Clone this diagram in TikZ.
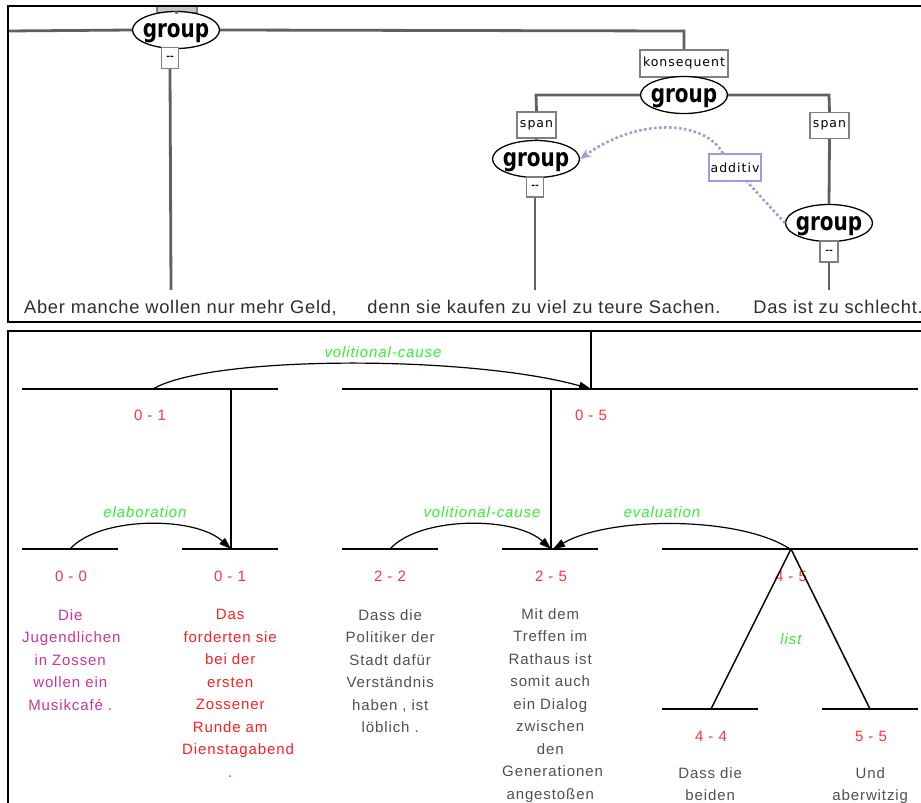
\documentclass[tikz,border=0pt]{standalone}
\usepackage{fontspec}
\setmainfont{Liberation Sans}
\newfontfamily\djv{DejaVu Sans}
\newfontfamily\grpf[FakeStretch=0.8]{DejaVu Sans}
\newfontfamily\lblf[LetterSpace=8]{DejaVu Sans}
\newfontfamily\topf[LetterSpace=4]{Liberation Sans}
\newfontfamily\botf[LetterSpace=6]{Liberation Sans}
\usetikzlibrary{arrows.meta,shapes.geometric}
\definecolor{tgray}{HTML}{606060}
\definecolor{lblgray}{HTML}{808080}
\definecolor{addc}{HTML}{9C9CE4}
\definecolor{rngred}{HTML}{FF3333}
\definecolor{relgreen}{HTML}{33EE33}
\definecolor{txtgray}{HTML}{505050}
\definecolor{txtmag}{HTML}{CC3399}
\definecolor{txtred}{HTML}{FF2020}
\definecolor{toptxt}{HTML}{2E2E2E}
\begin{document}
\begin{tikzpicture}[x=1pt,y=-1pt,
 frame/.style={draw=black,line width=1.6pt},
 tline/.style={draw=tgray,line width=2.8pt},
 grp/.style={ellipse,draw=black,line width=1.3pt,fill=white,inner xsep=-3pt,inner ysep=5pt,text depth=0pt,minimum width=87pt,minimum height=37pt,font=\grpf\bfseries\fontsize{25}{25}\selectfont},
 lblbox/.style={rectangle,draw=lblgray,line width=1.3pt,fill=white,inner sep=0pt,minimum height=26pt,font=\lblf\fontsize{12.5}{12.5}\selectfont},
 dashbox/.style={rectangle,draw=lblgray,line width=1.3pt,fill=white,inner sep=0pt,minimum width=17pt,minimum height=21pt,font=\djv\bfseries\fontsize{9}{9}\selectfont},
 toptext/.style={inner sep=0pt,anchor=base,text=toptxt,font=\topf\fontsize{18.3}{18.3}\selectfont},
 addline/.style={draw=addc,line width=2.6pt,dash pattern=on 2.6pt off 2.4pt},
 bline/.style={draw=black,line width=1.5pt},
 relarc/.style={draw=black,line width=1.2pt,-{Triangle[length=12pt,width=8pt]}},
 rng/.style={text=rngred,inner sep=0pt,font=\botf\fontsize{15}{15}\selectfont},
 rel/.style={text=relgreen,inner sep=0pt,font=\botf\itshape\fontsize{15}{15}\selectfont},
 blk/.style={anchor=north west,inner sep=0pt,text width=96pt,align=center,font=\botf\fontsize{15}{22.5}\selectfont},
]
\useasboundingbox (0,0) rectangle (921,803);
\clip (0,0) rectangle (921,803);

% ---------------- top panel ----------------
\node[draw=lblgray,fill=black!22,line width=1.2pt,minimum width=40pt,minimum height=7pt,inner sep=0pt] (pbox) at (177,9.5) {};
\coordinate (lft) at (8,31);
\coordinate (c1) at (684,31);
\node[lblbox,minimum width=88pt,minimum height=27pt] (kons) at (684,63.5) {konsequent};
\node[grp] (g1) at (176,30) {group};
\draw[tline] (lft) -- (g1.west);
\draw[tline] (pbox.south) -- (g1.north);
\draw[tline] (g1.east) -- (c1) -- (kons.north);
\node[dashbox] (d1) at (170,58) {{-}{-}};
\node[grp] (g2) at (684,95) {group};
\coordinate (c2) at (536,95);
\coordinate (c3) at (829,95);
\node[lblbox,minimum width=39pt] (span1) at (536.5,125) {span};
\node[lblbox,minimum width=39pt] (span2) at (829.5,125.5) {span};
\draw[tline] (g2.west) -- (c2) -- (span1.north);
\draw[tline] (g2.east) -- (c3) -- (span2.north);
\node[grp] (g3) at (536,159) {group};
\draw[tline] (span1.south) -- (g3.north);
\node[dashbox,minimum height=20pt] (d3) at (535,187) {{-}{-}};
\node[grp] (g4) at (829,223) {group};
\draw[tline] (span2.south) -- (g4.north);
\node[dashbox,minimum width=18pt] (d4) at (829,251.5) {{-}{-}};
\coordinate (e1) at (171,290);
\coordinate (e3) at (535,290);
\coordinate (e4) at (829,290);
\draw[tline] (d1.south) -- (e1);
\draw[tline] (d3.south) -- (e3);
\draw[tline] (d4.south) -- (e4);
\node[lblbox,draw=addc,minimum width=52pt,minimum height=27pt] (add) at (735,167.5) {additiv};
\draw[addline] (g4.west) -- ([xshift=12pt]add.south);
\draw[addline,-{Stealth[length=11pt,width=9pt]}] ([xshift=-12pt]add.north) .. controls (705,121) and (640,116) .. (g3.east);

\node[toptext] (t1) at (180.5,313) {Aber manche wollen nur mehr Geld,};
\node[toptext] (t2) at (544,313) {denn sie kaufen zu viel zu teure Sachen.};
\node[toptext] (t3) at (838,313) {Das ist zu schlecht.};

\draw[frame] (8,6) rectangle (935,322);

% ---------------- bottom panel ----------------
% row 1
\coordinate (a1l) at (22,389);  \coordinate (a1r) at (278,389);
\coordinate (b1l) at (342,389); \coordinate (b1r) at (918,389);
\draw[bline] (a1l) -- (a1r);
\draw[bline] (b1l) -- (b1r);
% row 2
\coordinate (r2a) at (22,549);  \coordinate (r2b) at (118,549);
\coordinate (r2c) at (182,549); \coordinate (r2d) at (278,549);
\coordinate (r2e) at (342,549); \coordinate (r2f) at (438,549);
\coordinate (r2g) at (502,549); \coordinate (r2h) at (598,549);
\coordinate (r2i) at (662,549); \coordinate (r2j) at (918,549);
\draw[bline] (r2a) -- (r2b);
\draw[bline] (r2c) -- (r2d);
\draw[bline] (r2e) -- (r2f);
\draw[bline] (r2g) -- (r2h);
\draw[bline] (r2i) -- (r2j);
% row 3
\coordinate (r3a) at (662,709); \coordinate (r3b) at (758,709);
\coordinate (r3c) at (822,709); \coordinate (r3d) at (918,709);
\draw[bline] (r3a) -- (r3b);
\draw[bline] (r3c) -- (r3d);

% verticals
\coordinate (vtop) at (591,331);
\coordinate (vc1e) at (591,389);
\coordinate (v01t) at (231,389); \coordinate (v01b) at (231,549);
\coordinate (v25t) at (551,389); \coordinate (v25b) at (551,549);
\draw[bline] (vtop) -- (vc1e);
\draw[bline] (v01t) -- (v01b);
\draw[bline] (v25t) -- (v25b);

% relation arcs
\coordinate (vc1s) at (153,389);
\draw[relarc] (vc1s) .. controls (210,355) and (470,355) .. (vc1e);
\coordinate (el0) at (70,549);
\draw[relarc] (el0) .. controls (100,516) and (195,516) .. (v01b);
\coordinate (vc2s) at (390,549);
\draw[relarc] (vc2s) .. controls (420,516) and (515,516) .. (v25b);
\coordinate (ev0) at (790,549);
\coordinate (ev1) at (553,549);
\draw[relarc] (ev0) .. controls (740,516) and (610,516) .. (ev1);

% range labels
\node[rng] (s01a) at (150,415) {0 - 1};
\node[rng] (s05) at (591,415) {0 - 5};
\node[rng] (s00) at (71,576) {0 - 0};
\node[rng] (s01b) at (230,576) {0 - 1};
\node[rng] (s22) at (390,576) {2 - 2};
\node[rng] (s25) at (551,576) {2 - 5};
\node[rng] (s45) at (791,576) {4 - 5};
\node[rng] (s44) at (711,736) {4 - 4};
\node[rng] (s55) at (871,736) {5 - 5};

% list
\coordinate (l45) at (791,549);
\coordinate (l44) at (711,709);
\coordinate (l55) at (870,709);
\draw[bline] (l45) -- (l44);
\draw[bline] (l45) -- (l55);

% relation names
\node[rel] (n1) at (383,352) {volitional-cause};
\node[rel] (n2) at (145,512) {elaboration};
\node[rel] (n3) at (482,512) {volitional-cause};
\node[rel] (n4) at (662,512) {evaluation};
\node[rel] (n5) at (791,639) {list};

% text blocks
\node[blk,text=txtmag] (x00) at (22,609) {\mbox{Die}\\\mbox{Jugendlichen}\\\mbox{in Zossen}\\\mbox{wollen ein}\\\mbox{Musikcafé .}};
\node[blk,text=txtred] (x01) at (182,609) {\mbox{Das}\\\mbox{forderten sie}\\\mbox{bei der}\\\mbox{ersten}\\\mbox{Zossener}\\\mbox{Runde am}\\\mbox{Dienstagabend}\\\mbox{.}};
\node[blk,text=txtgray] (x22) at (342,609) {\mbox{Dass die}\\\mbox{Politiker der}\\\mbox{Stadt dafür}\\\mbox{Verständnis}\\\mbox{haben , ist}\\\mbox{löblich .}};
\node[blk,text=txtgray] (x25) at (502,608) {\mbox{Mit dem}\\\mbox{Treffen im}\\\mbox{Rathaus ist}\\\mbox{somit auch}\\\mbox{ein Dialog}\\\mbox{zwischen}\\\mbox{den}\\\mbox{Generationen}\\\mbox{angestoßen}};
\node[blk,text=txtgray] (x44) at (662,767) {\mbox{Dass die}\\\mbox{beiden}};
\node[blk,text=txtgray] (x55) at (822,767) {\mbox{Und}\\\mbox{aberwitzig}};

\draw[frame] (8,331) rectangle (935,815);
\end{tikzpicture}
\end{document}
